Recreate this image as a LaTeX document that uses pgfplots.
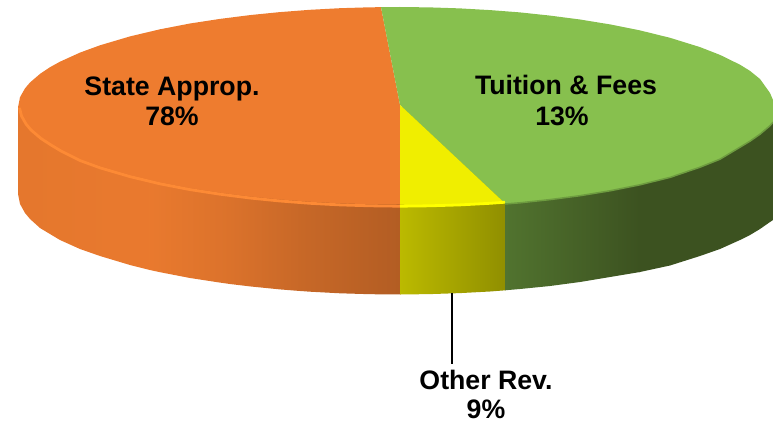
\documentclass[border=0pt]{standalone}
\usepackage{pgfplots}
\pgfplotsset{compat=1.18}
\usepackage{fontspec}
\setmainfont{Liberation Sans}
\definecolor{orTop}{HTML}{EE7C2F}
\definecolor{orRim}{HTML}{FD8A35}
\definecolor{grTop}{HTML}{87C04E}
\definecolor{grRim}{HTML}{6E9C40}
\definecolor{yeTop}{HTML}{F0EE00}
\definecolor{yeRim}{HTML}{FFFF00}
\definecolor{grDark}{HTML}{3C5220}
\begin{document}
\begin{tikzpicture}
% hide axis drops the frame from the bounding box, so keep the full page here
\path (0,0) rectangle (773pt,422pt);
\begin{axis}[
    at={(0,0)}, anchor=south west,
    scale only axis,
    width=773pt, height=422pt,
    xmin=0, xmax=773, ymin=0, ymax=422,
    y dir=reverse,
    hide axis,
    ]
% side wall, orange
\addplot[draw=none, left color=orTop!96!black, right color=orTop!98!black] coordinates {(18,107) (150,107) (150,270) (130,265) (100,256) (80,249) (60,240) (50,234) (40,228) (30,219) (25,213) (20,204) (18,194)};
\addplot[draw=none, left color=orTop!98!black, right color=orTop!92!black] coordinates {(149,107) (230,107) (230,284) (220,282.6) (190,278) (160,272.2) (149,269.8)};
\addplot[draw=none, left color=orTop!92!black, right color=orTop!84!black] coordinates {(229,107) (300,107) (300,291) (280,289.4) (250,286.4) (229,283.9)};
\addplot[draw=none, left color=orTop!84!black, right color=orTop!75!black] coordinates {(299,107) (400.5,107) (400.5,294.5) (370,294.2) (340,293.3) (310,291.7) (299,290.9)};
% side wall, yellow
\addplot[draw=none, left color=yeTop!78!black, right color=yeTop!60!black] coordinates {(400,107) (505.5,107) (505.5,290.3) (490,291.5) (460,293.1) (430,294.1) (400,294.5)};
% side wall, green
\addplot[draw=none, left color=grTop!60!black, right color=grDark] coordinates {(505,107) (640,107) (640,272) (610,277) (580,282) (550,286) (520,289) (505,290.3)};
\addplot[draw=none, fill=grDark] coordinates {(639,107) (773,107) (773,220) (770,222) (760,229) (750,235) (740,240) (720,249) (700,256) (670,265.5) (639,272.2)};
% top face, orange
\addplot[draw=none, fill=orTop] coordinates {(381,7.2) (370,7.3) (340,8.2) (310,9.8) (280,12.1) (250,15.1) (220,18.9) (190,23.5) (160,29.3) (130,36.4) (100,45.3) (80,52.6) (60,61.7) (50,67.2) (40,73.9) (30,82.5) (25,88.4) (20,97.2) (18,107.5) (21,116) (25,123) (30,129) (40,137.5) (50,144) (60,150) (80,159) (100,166.2) (130,175) (160,182.2) (190,188) (220,192.6) (250,196.4) (280,199.4) (310,201.7) (340,203.3) (370,204.2) (400,204.5) (400,105)};
% top face, green
\addplot[draw=none, fill=grTop] coordinates {(381,7.2) (400,7) (430,7.4) (460,8.4) (490,10.1) (520,12.4) (550,15.6) (580,19.5) (610,24.4) (640,30.4) (670,37.8) (700,47.1) (720,54.9) (740,64.7) (750,70.9) (760,79) (770,93) (773,100) (773,122) (770,125.5) (760,134) (750,141) (740,147) (720,159) (700,167) (670,177.2) (640,184.6) (610,190.6) (580,195.5) (550,199.4) (520,202.6) (505,203.4) (400,105)};
% top face, yellow
\addplot[draw=none, fill=yeTop] coordinates {(400,105) (505,203.4) (490,203.7) (460,205.3) (430,206.2) (400,204.5)};
% rim highlights along the front edge
\addplot[line width=2.8pt, color=orRim] coordinates {(19.5,108) (21.5,116) (26,124) (31,130) (41,138.5) (51,145) (61,151) (80,160.5) (100,167.8) (130,176.6) (160,183.8) (190,189.6) (220,194.2) (250,198) (280,201) (310,203.3) (340,204.9) (370,205.8) (400,206.2)};
\addplot[line width=2.8pt, color=yeRim] coordinates {(400,206.2) (430,205.8) (460,204.9) (490,203.3) (505,202.2)};
\addplot[line width=1.5pt, color=grRim] coordinates {(505,204) (520,202.8) (550,199.6) (580,195.7) (610,190.8) (640,184.8) (670,177.4) (700,167.2) (720,159.2) (740,147.2) (750,141.2) (760,134.2) (770,125.7) (773,122.2)};
% leader line
\addplot[line width=1.4pt, color=black] coordinates {(452,293) (452,364)};
\node[font=\fontsize{26.7}{30}\selectfont\bfseries, align=center, inner sep=0pt] at (axis cs:172,101) {State Approp.\\78\%};
\node[font=\fontsize{26.7}{30}\selectfont\bfseries, inner sep=0pt] at (axis cs:566,85) {Tuition \& Fees};
\node[font=\fontsize{26.7}{30}\selectfont\bfseries, inner sep=0pt] at (axis cs:562,116) {13\%};
\node[font=\fontsize{26.7}{30}\selectfont\bfseries, inner sep=0pt] at (axis cs:486,380) {Other Rev.};
\node[font=\fontsize{26.7}{30}\selectfont\bfseries, inner sep=0pt] at (axis cs:486,409.5) {9\%};
\end{axis}
\end{tikzpicture}
\end{document}
